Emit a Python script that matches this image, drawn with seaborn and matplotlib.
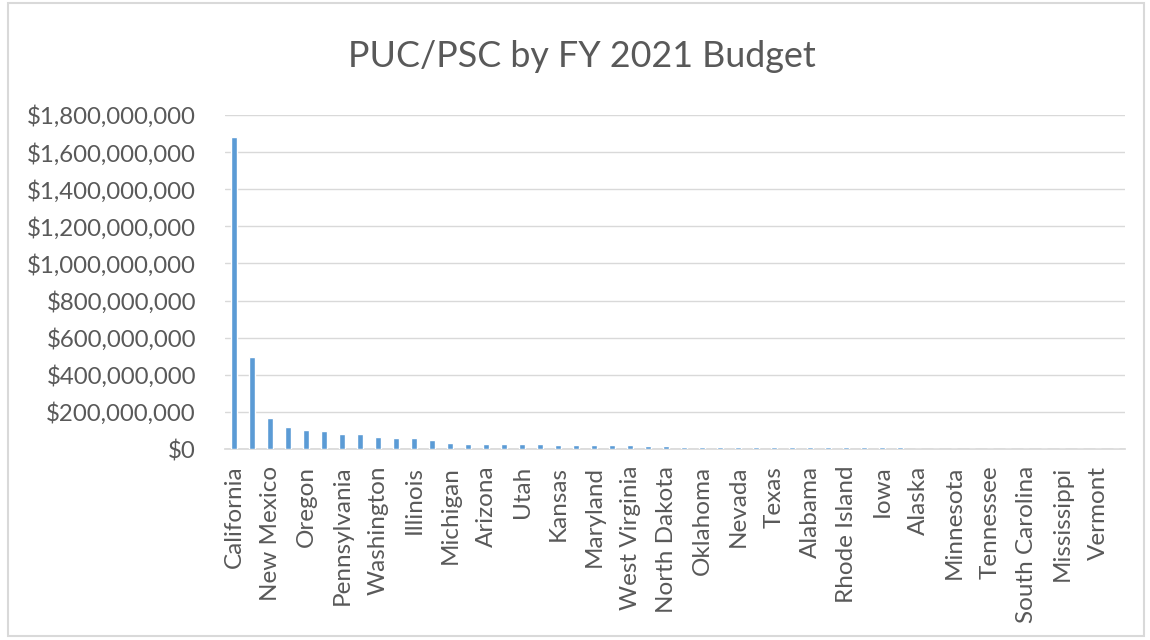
import matplotlib
matplotlib.use("Agg")
import matplotlib.pyplot as plt
import seaborn as sns
import pandas as pd
from matplotlib.ticker import FuncFormatter
from matplotlib.patches import Rectangle

states = ["California", "New York", "New Mexico", "Florida", "Oregon", "Colorado",
          "Pennsylvania", "Ohio", "Washington", "Massachusetts", "Illinois", "New Jersey",
          "Michigan", "Virginia", "Arizona", "Georgia", "Utah", "Wisconsin",
          "Kansas", "Missouri", "Maryland", "Kentucky", "West Virginia", "Louisiana",
          "North Dakota", "Connecticut", "Oklahoma", "Indiana", "Nevada", "Arkansas",
          "Texas", "Idaho", "Alabama", "Montana", "Rhode Island", "Wyoming",
          "Iowa", "Maine", "Alaska", "New Hampshire", "Minnesota", "Delaware",
          "Tennessee", "Hawaii", "South Carolina", "South Dakota", "Mississippi", "Nebraska",
          "Vermont", "North Carolina"]
budget_millions = [1680, 495, 167, 120, 104, 96, 82, 81, 65, 58,
                   57, 49, 35, 27, 27, 26, 26, 26, 20, 19,
                   19, 19, 19, 18, 18, 13, 12, 12, 12, 12,
                   12, 12, 11, 11, 11, 11, 11, 11, 0, 0,
                   0, 0, 0, 0, 0, 0, 0, 0, 0, 0]
shown_labels = states[::2]
y_ticks = [0, 200e6, 400e6, 600e6, 800e6, 1000e6, 1200e6, 1400e6, 1600e6, 1800e6]

df = pd.DataFrame({"state": states, "budget": [v * 1e6 for v in budget_millions]})

sns.set_theme(style="white")
plt.rcParams["font.family"] = ["Lato", "DejaVu Sans"]

fig = plt.figure(figsize=(11.5, 6.4), dpi=100)
ax = fig.add_axes([0.1957, 0.2984, 0.7826, 0.5219])

sns.barplot(data=df, x="state", y="budget", order=states, color="#5B9BD5",
            saturation=1, width=0.3, ax=ax, zorder=3)

ax.set_ylim(0, 1.8e9)
ax.set_xlim(-0.5, len(states) - 0.5)
ax.set_yticks(y_ticks)
ax.yaxis.set_major_formatter(FuncFormatter(lambda v, p: "${:,.0f}".format(v)))
ax.set_xticks(range(0, len(states), 2))
ax.set_xticklabels(shown_labels, rotation=90, fontsize=17.5, color="#595959")
ax.tick_params(axis="y", labelsize=17.3, labelcolor="#595959", length=0, pad=21)
ax.tick_params(axis="x", length=0, pad=12)
ax.grid(axis="y", color="#d9d9d9", linewidth=1, zorder=0)
ax.set_axisbelow(True)
for s in ["left", "right", "top"]:
    ax.spines[s].set_visible(False)
ax.spines["bottom"].set_color("#d9d9d9")
ax.spines["bottom"].set_zorder(1)
ax.set_xlabel("")
ax.set_ylabel("")

fig.text(0.506, 0.912, "PUC/PSC by FY 2021 Budget", ha="center", va="center",
         fontsize=25.8, color="#595959")

fig.patches.append(Rectangle((0.007, 0.006), 0.988, 0.99, transform=fig.transFigure,
                             fill=False, edgecolor="#d9d9d9", linewidth=1.5))

fig.savefig("out.png", dpi=100)
